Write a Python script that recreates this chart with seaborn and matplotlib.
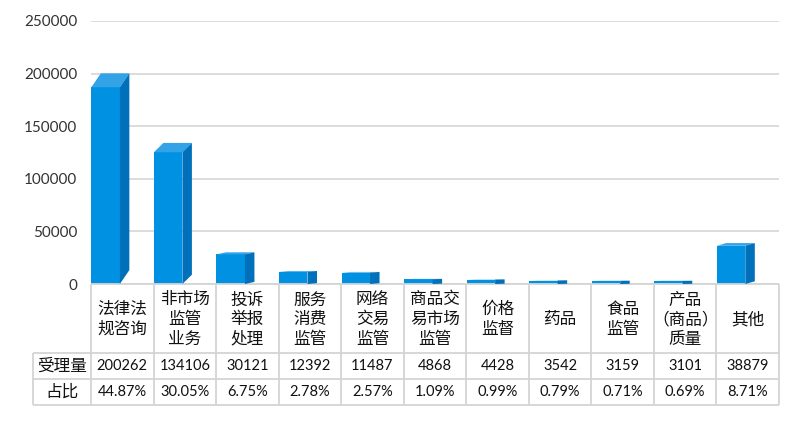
import matplotlib
matplotlib.use("Agg")
import matplotlib.pyplot as plt
import seaborn as sns
import pandas as pd
from matplotlib.patches import Polygon
from matplotlib.transforms import IdentityTransform

# ---------------- data ----------------
categories = ["法律法规咨询", "非市场监管业务", "投诉举报处理", "服务消费监管", "网络交易监管",
              "商品交易市场监管", "价格监督", "药品", "食品监管", "产品（商品）质量", "其他"]
header_labels = ["法律法\n规咨询", "非市场\n监管\n业务", "投诉\n举报\n处理", "服务\n消费\n监管",
                 "网络\n交易\n监管", "商品交\n易市场\n监管", "价格\n监督", "药品", "食品\n监管",
                 "产品\n（商品）\n质量", "其他"]
counts = [200262, 134106, 30121, 12392, 11487, 4868, 4428, 3542, 3159, 3101, 38879]
shares = ["44.87%", "30.05%", "6.75%", "2.78%", "2.57%", "1.09%", "0.99%", "0.79%", "0.71%", "0.69%", "8.71%"]
row_labels = ["受理量", "占比"]
y_ticks = [0, 50000, 100000, 150000, 200000, 250000]

# ---------------- style ----------------
sns.set_theme(style="white")
plt.rcParams["font.family"] = ["Lato", "Noto Sans CJK SC", "DejaVu Sans"]
CJK = ["Noto Sans CJK SC", "DejaVu Sans"]
NUM = ["Lato", "Noto Sans CJK SC"]

front_c = "#0091E2"
side_c = "#0070BA"
top_c = "#33A3E8"
grid_c = "#D9D9D9"
line_c = "#D4D4D4"

W, H = 800, 429
fig = plt.figure(figsize=(W / 100, H / 100), dpi=100)

n = len(categories)
ax_l, ax_r, ax_t, ax_b = 91, 779, 21, 284
colw = (ax_r - ax_l) / n
xl = -(14.6 / colw)          # category centre sits 14.6px right of its column edge
k = 0.066                    # perspective shrink of the front face

ax = fig.add_axes([ax_l / W, 1 - ax_b / H, (ax_r - ax_l) / W, (ax_b - ax_t) / H])
ax_front = ax.twinx()

df = pd.DataFrame({"cat": categories, "count": counts})
sns.barplot(data=df, x="cat", y="count", ax=ax_front, color=front_c, saturation=1,
            width=28.5 / colw, edgecolor="none", linewidth=0)

ax.set_xlim(xl, xl + n)
ax.set_ylim(0, 250000)
ax_front.set_ylim(0, 250000 / (1 - k))

for a in (ax, ax_front):
    for s in a.spines.values():
        s.set_visible(False)
    a.set_xlabel("")
    a.set_ylabel("")
    a.set_xticks([])
ax_front.set_yticks([])
ax.set_yticks(y_ticks)
ax.set_yticklabels([str(t) for t in y_ticks], fontsize=11, color="#333333", family=NUM)
ax.tick_params(axis="y", length=0, pad=10)
for t in y_ticks:
    ax.axhline(t, color=grid_c, lw=1.3, zorder=0)

# ---------------- 3D faces ----------------
dx = 9.5
for p in ax_front.patches:
    x0, w, v = p.get_x(), p.get_width(), p.get_height()
    ftl = ax_front.transData.transform((x0, v))
    ftr = ax_front.transData.transform((x0 + w, v))
    fbr = ax_front.transData.transform((x0 + w, 0))
    bt = ax.transData.transform((x0 + w, v))[1]
    bb = ax.transData.transform((x0 + w, k * v))[1]
    top = [ftl, ftr, (ftr[0] + dx, bt), (ftl[0] + dx, bt)]
    side = [fbr, ftr, (ftr[0] + dx, bt), (fbr[0] + dx, bb)]
    fig.add_artist(Polygon(top, closed=True, transform=IdentityTransform(),
                           facecolor=top_c, edgecolor="none", zorder=2))
    fig.add_artist(Polygon(side, closed=True, transform=IdentityTransform(),
                           facecolor=side_c, edgecolor="none", zorder=2))

# ---------------- data table ----------------
tb_l, tb_r, tb_t, tb_b = 33, 779, 284, 405
r1, r2 = 353, 379
tab = fig.add_axes([tb_l / W, 1 - tb_b / H, (tb_r - tb_l) / W, (tb_b - tb_t) / H])
tab.set_xlim(tb_l, tb_r)
tab.set_ylim(tb_b, tb_t)
tab.axis("off")

lk = dict(color=line_c, lw=1.3, solid_capstyle="butt", clip_on=False)
tab.plot([ax_l, ax_r], [tb_t, tb_t], **lk)
for yy in (r1, r2, tb_b):
    tab.plot([tb_l, tb_r], [yy, yy], **lk)
tab.plot([tb_l, tb_l], [r1, tb_b], **lk)
for i in range(n + 1):
    xx = ax_l + i * colw
    tab.plot([xx, xx], [tb_t, tb_b], **lk)

hy = (tb_t + r1) / 2 + 1
for i in range(n):
    cx = ax_l + (i + 0.5) * colw
    tab.text(cx, hy, header_labels[i], ha="center", va="center", fontsize=12,
             family=CJK, color="#111111", linespacing=1.2)
    tab.text(cx, (r1 + r2) / 2, f"{counts[i]}", ha="center", va="center",
             fontsize=10.5, family=NUM, color="#111111")
    tab.text(cx, (r2 + tb_b) / 2, shares[i], ha="center", va="center",
             fontsize=10.5, family=NUM, color="#111111")

lx = (tb_l + ax_l) / 2
tab.text(lx, (r1 + r2) / 2, row_labels[0], ha="center", va="center", fontsize=12,
         family=CJK, color="#111111")
tab.text(lx, (r2 + tb_b) / 2, row_labels[1], ha="center", va="center", fontsize=12,
         family=CJK, color="#111111")

fig.savefig("out.png", dpi=100, facecolor="white")
